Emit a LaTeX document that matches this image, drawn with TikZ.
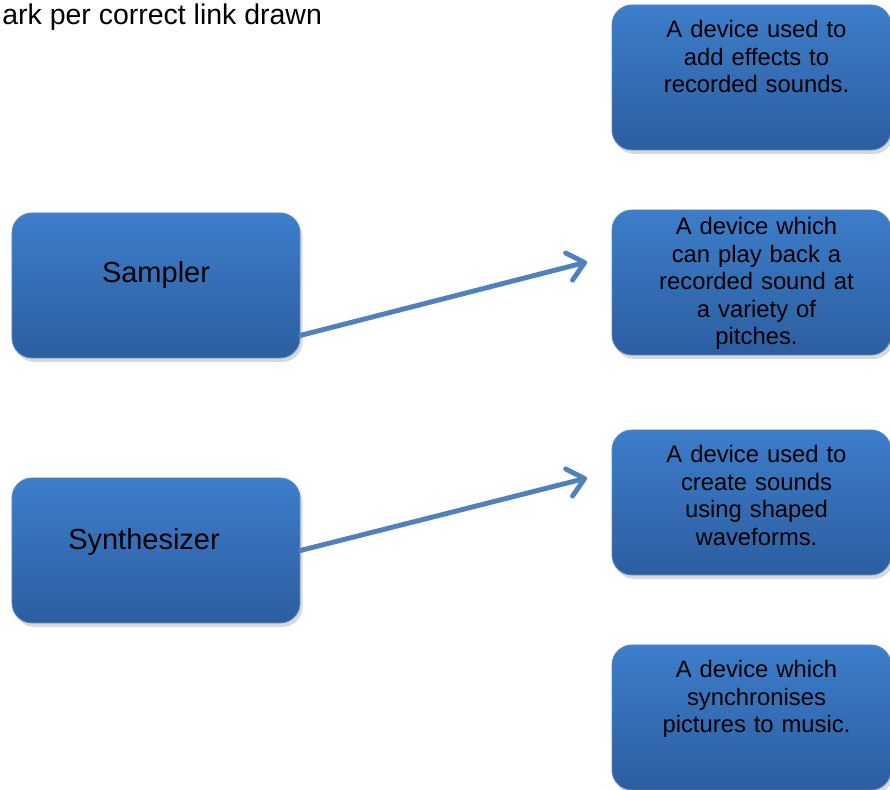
\documentclass[tikz,border=0pt]{standalone}
\usepackage{fontspec}
\setmainfont{Liberation Sans}
\usepackage{tikz}
\usetikzlibrary{positioning,shadows,arrows.meta}

\definecolor{boxtop}{RGB}{61,125,202}
\definecolor{boxbottom}{RGB}{44,94,160}
\definecolor{boxedge}{RGB}{84,136,200}
\definecolor{linkblue}{RGB}{79,129,189}

\begin{document}
\begin{tikzpicture}[
        box/.style={rectangle, rounded corners=0.4cm, draw=boxedge, line width=0.5pt,
            top color=boxtop, bottom color=boxbottom,
            drop shadow={shadow xshift=0.05cm, shadow yshift=-0.08cm, opacity=0.3}},
        namebox/.style={box, minimum width=5.76cm, minimum height=2.9cm},
        descbox/.style={box, minimum width=5.58cm, minimum height=2.9cm},
        nametext/.style={inner sep=0pt, font=\fontsize{16.5}{19}\selectfont},
        desctext/.style={inner sep=0pt, anchor=north, text width=5.2cm, align=center,
            xshift=0.1cm, font=\fontsize{13.55}{15.65}\selectfont},
        link/.style={draw=linkblue, line width=2.8pt, line cap=round,
            -{Straight Barb[length=0.32cm, width=0.56cm, line cap=round, line join=round]}}]

        \useasboundingbox (0,0) rectangle (17.8,15.8);

        % heading (cut off on the left)
        \node[nametext, anchor=base west, font=\fontsize{16.2}{19}\selectfont] (heading) at (0.04,15.3) {ark per correct link drawn};

        % instruments
        \node[namebox] (sampler) at (3.12,10.09) {};
        \node[namebox] (synth) at (3.12,4.79) {};
        \node[nametext, anchor=base] (samplertext) at (3.12,10.14) {Sampler};
        \node[nametext, anchor=base] (synthtext) at (2.88,4.8) {Synthesizer};

        % descriptions
        \node[descbox] (effects) at (15.03,14.25) {};
        \node[descbox] (playback) at (15.03,10.15) {};
        \node[descbox] (waveforms) at (15.03,5.75) {};
        \node[descbox] (pictures) at (15.03,1.45) {};

        \node[desctext, below=0.31cm of effects.north] (effectstext) {A device used to\\ add effects to\\ recorded sounds.};
        \node[desctext, below=0.15cm of playback.north] (playbacktext) {A device which\\ can play back a\\ recorded sound at\\ a variety of\\ pitches.};
        \node[desctext, below=0.31cm of waveforms.north] (waveformstext) {A device used to\\ create sounds\\ using shaped\\ waveforms.};
        \node[desctext, below=0.31cm of pictures.north] (picturestext) {A device which\\ synchronises\\ pictures to music.};

        % links drawn
        \coordinate (samplertip) at (11.74,10.56);
        \coordinate (synthtip) at (11.74,6.24);
        \draw[link] ([yshift=0.46cm]sampler.south east) -- (samplertip);
        \draw[link] (synth.east) -- (synthtip);
    \end{tikzpicture}
\end{document}
